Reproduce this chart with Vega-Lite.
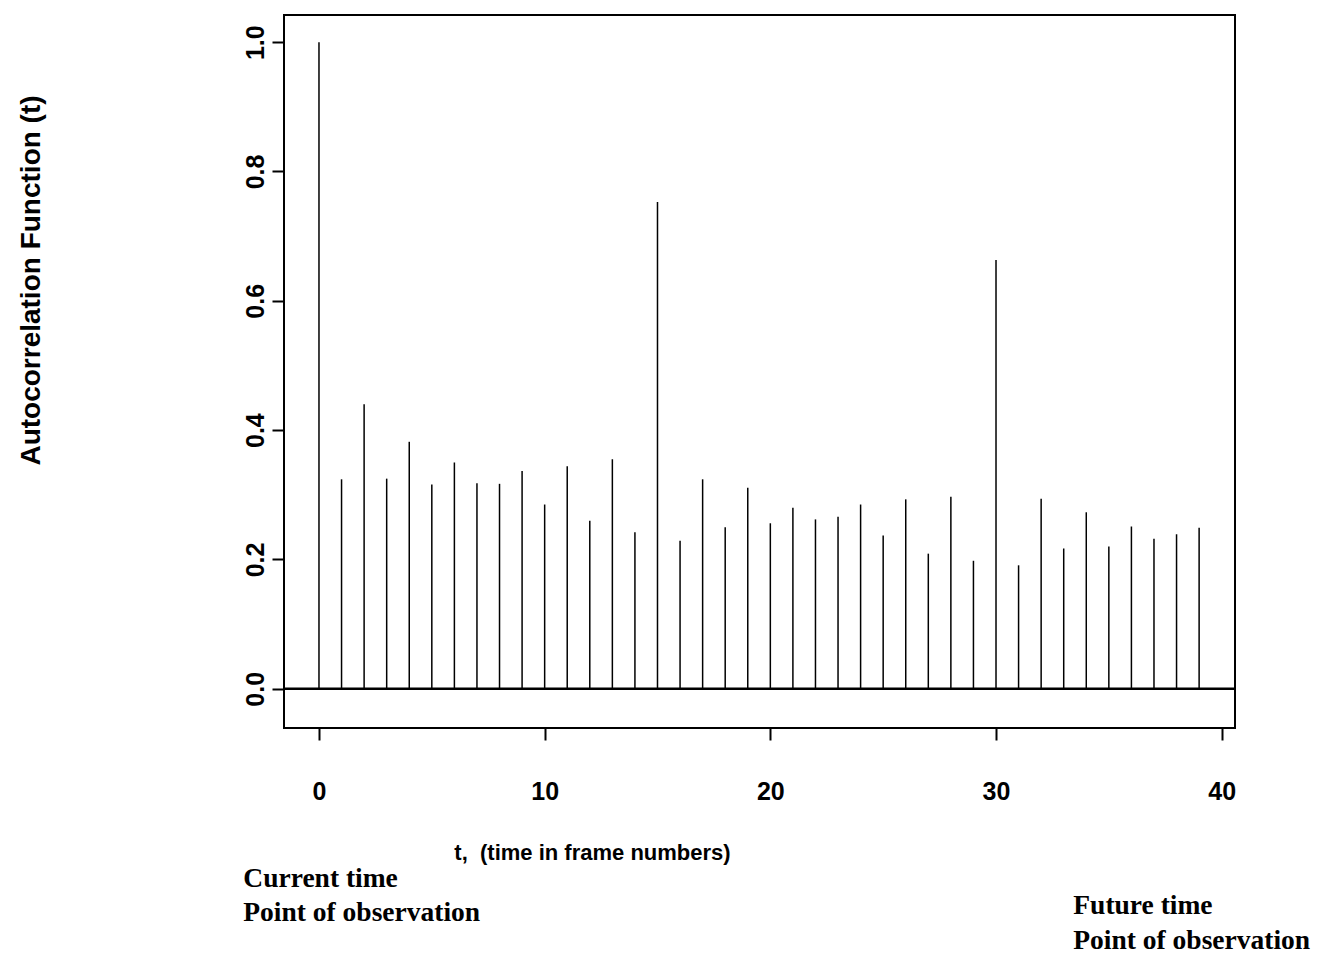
{
  "$schema": "https://vega.github.io/schema/vega-lite/v6.json",
  "width": 951,
  "height": 713,
  "autosize": {"type": "none"},
  "padding": {"left": 284, "top": 15, "right": 84, "bottom": 226},
  "background": "white",
  "config": {
    "view": {"stroke": "black", "strokeWidth": 2, "fill": "white"},
    "axis": {
      "labelFont": "Liberation Sans",
      "labelFontWeight": "bold",
      "labelFontSize": 25,
      "labelColor": "black",
      "titleFont": "Liberation Sans",
      "titleFontWeight": "bold",
      "titleColor": "black",
      "tickColor": "black",
      "tickWidth": 2,
      "tickSize": 12,
      "domain": false,
      "grid": false
    }
  },
  "layer": [
    {
      "data": {
        "values": [
          {"lag": 0, "acf": 1.0},
          {"lag": 1, "acf": 0.324},
          {"lag": 2, "acf": 0.44},
          {"lag": 3, "acf": 0.325},
          {"lag": 4, "acf": 0.382},
          {"lag": 5, "acf": 0.316},
          {"lag": 6, "acf": 0.35},
          {"lag": 7, "acf": 0.318},
          {"lag": 8, "acf": 0.317},
          {"lag": 9, "acf": 0.337},
          {"lag": 10, "acf": 0.285},
          {"lag": 11, "acf": 0.344},
          {"lag": 12, "acf": 0.26},
          {"lag": 13, "acf": 0.355},
          {"lag": 14, "acf": 0.242},
          {"lag": 15, "acf": 0.753},
          {"lag": 16, "acf": 0.229},
          {"lag": 17, "acf": 0.324},
          {"lag": 18, "acf": 0.25},
          {"lag": 19, "acf": 0.311},
          {"lag": 20, "acf": 0.256},
          {"lag": 21, "acf": 0.28},
          {"lag": 22, "acf": 0.262},
          {"lag": 23, "acf": 0.266},
          {"lag": 24, "acf": 0.285},
          {"lag": 25, "acf": 0.237},
          {"lag": 26, "acf": 0.293},
          {"lag": 27, "acf": 0.209},
          {"lag": 28, "acf": 0.297},
          {"lag": 29, "acf": 0.198},
          {"lag": 30, "acf": 0.663},
          {"lag": 31, "acf": 0.191},
          {"lag": 32, "acf": 0.294},
          {"lag": 33, "acf": 0.217},
          {"lag": 34, "acf": 0.273},
          {"lag": 35, "acf": 0.22},
          {"lag": 36, "acf": 0.251},
          {"lag": 37, "acf": 0.232},
          {"lag": 38, "acf": 0.239},
          {"lag": 39, "acf": 0.249}
        ]
      },
      "mark": {"type": "rule", "color": "black", "strokeWidth": 1.5},
      "encoding": {
        "x": {
          "field": "lag",
          "type": "quantitative",
          "scale": {"domain": [-1.55, 40.59], "nice": false, "zero": false},
          "axis": {
            "values": [0, 10, 20, 30, 40],
            "format": "d",
            "labelBaseline": "top",
            "labelPadding": 39,
            "title": "t,\u00a0 (time in frame numbers)",
            "titleFontSize": 22,
            "titleX": 308,
            "titleY": 124,
            "titleAlign": "center",
            "titleBaseline": "middle"
          }
        },
        "y": {
          "field": "acf",
          "type": "quantitative",
          "scale": {"domain": [-0.0606, 1.042], "nice": false, "zero": false},
          "axis": {
            "values": [0, 0.2, 0.4, 0.6, 0.8, 1.0],
            "format": ".1f",
            "labelAngle": -90,
            "labelAlign": "center",
            "labelBaseline": "alphabetic",
            "labelPadding": 9,
            "title": "Autocorrelation Function (t)",
            "titleFontSize": 28,
            "titleAngle": -90,
            "titleX": -253,
            "titleY": 265,
            "titleAlign": "center",
            "titleBaseline": "middle"
          }
        },
        "y2": {"datum": 0}
      }
    },
    {
      "data": {"values": [{"acf": 0}]},
      "mark": {"type": "rule", "color": "black", "strokeWidth": 2.5},
      "encoding": {"y": {"field": "acf", "type": "quantitative"}}
    },
    {
      "data": {
        "values": [
          {"lag": -3.353, "acf": -0.306, "label": "Current time"},
          {"lag": -3.353, "acf": -0.3586, "label": "Point of observation"},
          {"lag": 33.425, "acf": -0.3487, "label": "Future time"},
          {"lag": 33.425, "acf": -0.4023, "label": "Point of observation"}
        ]
      },
      "mark": {
        "type": "text",
        "align": "left",
        "baseline": "alphabetic",
        "font": "Liberation Serif",
        "fontWeight": "bold",
        "fontSize": 27.5,
        "color": "black"
      },
      "encoding": {
        "x": {"field": "lag", "type": "quantitative"},
        "y": {"field": "acf", "type": "quantitative"},
        "text": {"field": "label"}
      }
    }
  ]
}
